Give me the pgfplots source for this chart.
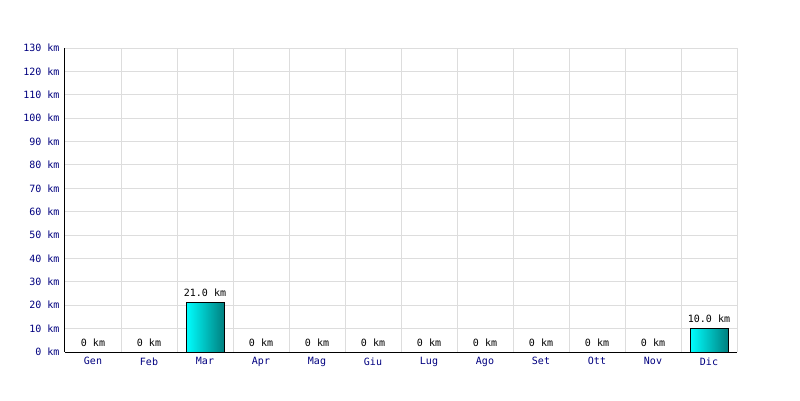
\documentclass[border=0pt]{standalone}
\usepackage{fontspec}
\setmainfont{DejaVu Sans Mono}
\usepackage{pgfplots}
\pgfplotsset{compat=1.18}
\definecolor{navy}{HTML}{000080}
\definecolor{gridgray}{HTML}{DDDDDD}
\definecolor{barleft}{HTML}{00FFFF}
\definecolor{barright}{HTML}{008080}
\begin{document}
\begin{tikzpicture}[x=1pt,y=1pt]
\useasboundingbox[fill=white] (0,0) rectangle (800,400);
\begin{axis}[
  at={(65pt,48pt)}, anchor=south west,
  scale only axis, width=672pt, height=304pt,
  xmin=-0.5, xmax=11.5, ymin=0, ymax=130,
  xtick={0,...,11},
  xticklabels={Gen,Feb,Mar,Apr,Mag,Giu,Lug,Ago,Set,Ott,Nov,Dic},
  minor xtick={0.5,1.5,...,11.5},
  ytick={0,10,...,130},
  yticklabel={\pgfmathprintnumber{\tick} km},
  /pgf/number format/assume math mode=true,
  xmajorgrids=false, xminorgrids=true, ymajorgrids=true,
  grid style={gridgray, line width=1pt},
  minor grid style={gridgray, line width=1pt},
  axis x line*=bottom, axis y line*=left,
  axis line style={black, line width=1pt, -},
  major tick length=0pt, minor tick length=0pt,
  tick style={draw=none},
  ticklabel style={font=\fontsize{10}{12}\selectfont, text=navy},
  xticklabel style={yshift=-2pt},
  yticklabel style={xshift=-2pt},
  nodes near coords,
  point meta=explicit symbolic,
  every node near coord/.append style={font=\fontsize{10}{12}\selectfont, text=black, anchor=south, yshift=2pt},
  clip=false,
]
\addplot[ybar, bar width=38pt, bar shift=0pt, draw=none] table[meta=label] {
x y label
0 0 {0 km}
1 0 {0 km}
3 0 {0 km}
4 0 {0 km}
5 0 {0 km}
6 0 {0 km}
7 0 {0 km}
8 0 {0 km}
9 0 {0 km}
10 0 {0 km}
};
\addplot[ybar, bar width=38pt, bar shift=0pt, draw=black, line width=1pt, left color=barleft, right color=barright] table[meta=label] {
x y label
2 21 {21.0 km}
};
\addplot[ybar, bar width=38pt, bar shift=0pt, draw=black, line width=1pt, left color=barleft, right color=barright] table[meta=label] {
x y label
11 10 {10.0 km}
};
\end{axis}
\end{tikzpicture}
\end{document}
